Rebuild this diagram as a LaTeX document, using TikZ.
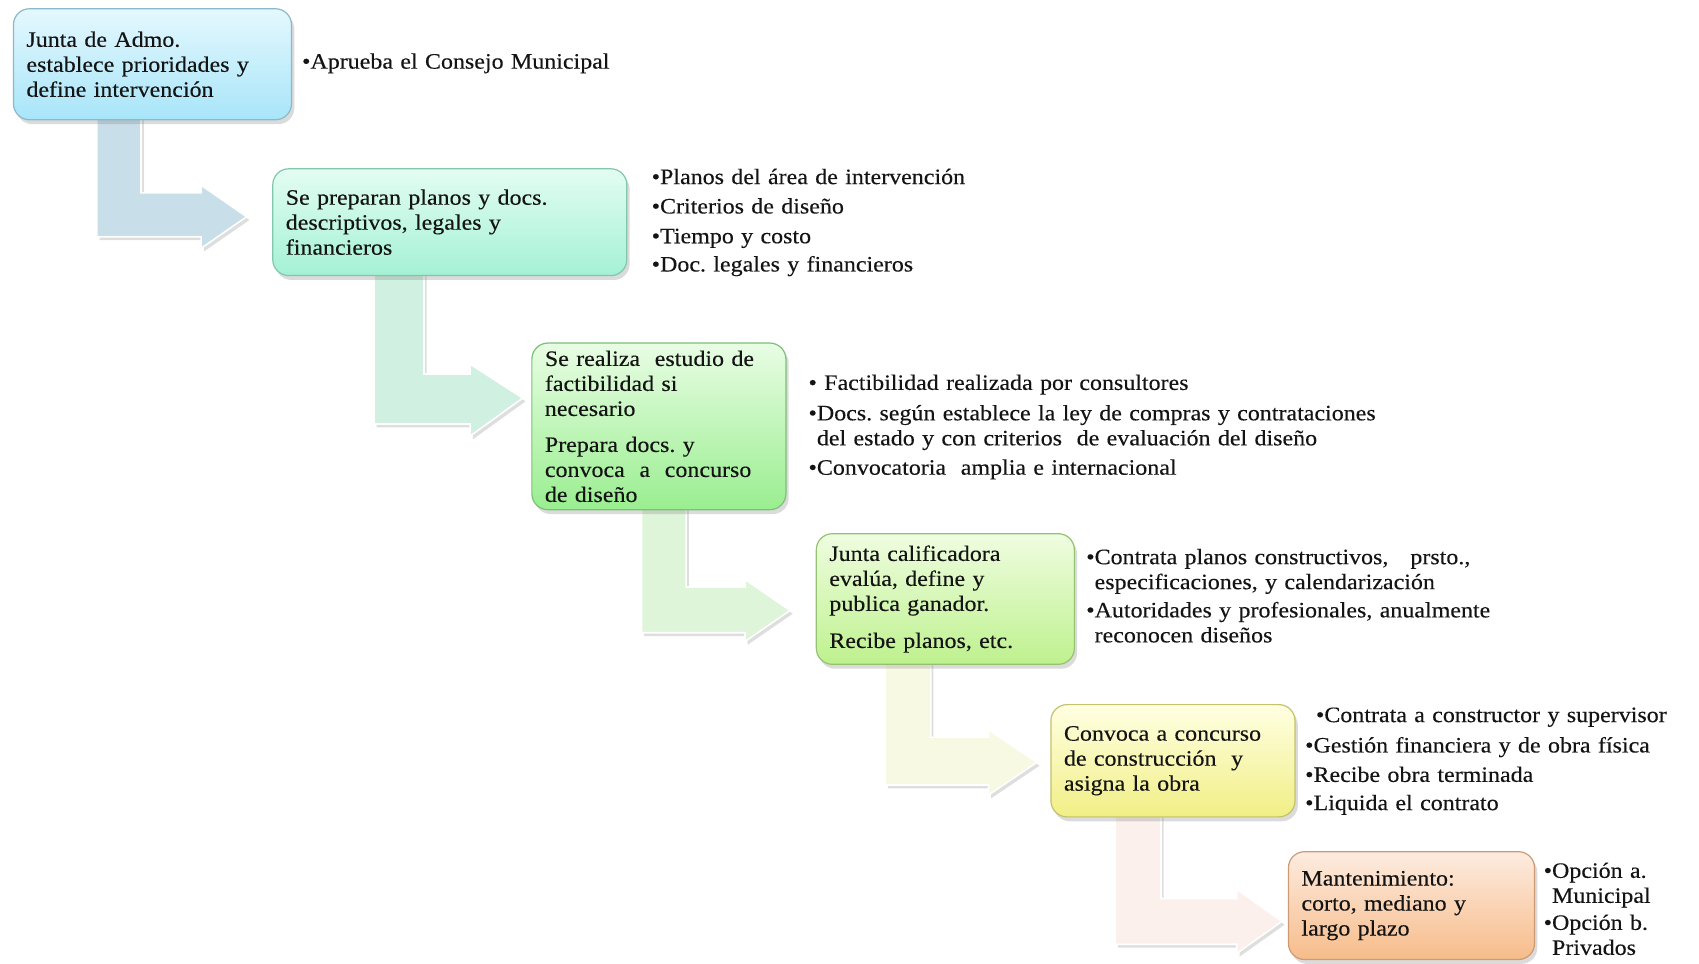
\documentclass[tikz,border=0pt]{standalone}
\usepackage{fontspec}
\setmainfont{Liberation Serif}[FakeStretch=1.09,FakeBold=0.25]
\usetikzlibrary{shadows}
\definecolor{txt}{HTML}{141414}
\definecolor{bAt}{HTML}{E4F8FE}\definecolor{bAb}{HTML}{A8E5F9}\definecolor{bAd}{HTML}{8CB9C8}
\definecolor{bBt}{HTML}{E3FDF3}\definecolor{bBb}{HTML}{A4F1D5}\definecolor{bBd}{HTML}{82C6AC}
\definecolor{bCt}{HTML}{E8FDE4}\definecolor{bCb}{HTML}{9AEE90}\definecolor{bCd}{HTML}{7CC077}
\definecolor{bDt}{HTML}{EFFDE0}\definecolor{bDb}{HTML}{BEF18E}\definecolor{bDd}{HTML}{95C270}
\definecolor{bEt}{HTML}{FFFFE3}\definecolor{bEb}{HTML}{F1EF85}\definecolor{bEd}{HTML}{C4C26C}
\definecolor{bFt}{HTML}{FDECE0}\definecolor{bFb}{HTML}{F7BC8A}\definecolor{bFd}{HTML}{CC9B76}
\definecolor{aA}{HTML}{C8DEE8}
\definecolor{aB}{HTML}{D0F0E1}
\definecolor{aC}{HTML}{DFF5D9}
\definecolor{aD}{HTML}{F8F9E2}
\definecolor{aE}{HTML}{FBF0EB}
\newcommand\blockarrow[2]{%
  \fill[black,opacity=.13,shift={(2.5,3)}] #2;
  \filldraw[fill=#1,draw=white,line width=.8pt,line join=miter] #2;}
\begin{document}
\frenchspacing
\begin{tikzpicture}[x=0.5445pt,y=-0.5445pt,
  every node/.style={font=\fontsize{11}{12.5}\selectfont\frenchspacing, text=txt},
  stepbox/.style n args={3}{rounded corners=8pt, top color=#1, bottom color=#2, draw=#3,
    line width=.6pt, align=left, inner xsep=6.5pt, inner ysep=0pt,
    drop shadow={shadow xshift=1.4pt, shadow yshift=-2.2pt, opacity=.28}},
  bullets/.style={anchor=base west, align=left, text width=400pt, inner sep=0pt}]
\useasboundingbox (0,0) rectangle (1560,885);
\fill[white] (0,0) rectangle (1560,885);

% block arrows
\blockarrow{aA}{(89,105) -- (129.5,105) -- (129.5,177) -- (184.6,177) -- (184.6,170) -- (226.5,199) -- (184.6,228) -- (184.6,217.5) -- (89,217.5) -- cycle}
\blockarrow{aB}{(343.4,248) -- (389.3,248) -- (389.3,343.4) -- (431.6,343.4) -- (431.6,334.3) -- (480,365.5) -- (431.6,400.4) -- (431.6,389.3) -- (343.4,389.3) -- cycle}
\blockarrow{aC}{(589,463) -- (630,463) -- (630,539) -- (684,539) -- (684,532) -- (725.4,560.5) -- (684,589) -- (684,581) -- (589,581) -- cycle}
\blockarrow{aD}{(812.7,605) -- (854.6,605) -- (854.6,677) -- (907.6,677) -- (907.6,670) -- (952,700) -- (907.6,730) -- (907.6,720.8) -- (812.7,720.8) -- cycle}
\blockarrow{aE}{(1024,745) -- (1066,745) -- (1066,825) -- (1135.6,825) -- (1135.6,816.6) -- (1177,846) -- (1135.6,875.4) -- (1135.6,867) -- (1024,867) -- cycle}

% boxes
\node[stepbox={bAt}{bAb}{bAd}, text width=126pt, minimum width=139pt, minimum height=55.5pt] (b1) at (140,59)
  {Junta de Admo.\\establece prioridades y\\define intervención};
\node[stepbox={bBt}{bBb}{bBd}, text width=164pt, minimum width=177pt, minimum height=53.4pt] (b2) at (413,204)
  {Se preparan planos y docs.\\descriptivos, legales y\\financieros};
\node[stepbox={bCt}{bCb}{bCd}, text width=114pt, minimum width=127pt, minimum height=83.3pt] (b3) at (605,391.5)
  {Se realiza~ estudio de\\factibilidad si\\necesario\\[5.5pt]Prepara docs. y\\convoca~ a~ concurso\\de diseño};
\node[stepbox={bDt}{bDb}{bDd}, text width=116pt, minimum width=129pt, minimum height=65.3pt] (b4) at (868,550)
  {Junta calificadora\\evalúa, define y\\publica ganador.\\[6pt]Recibe planos, etc.};
\node[stepbox={bEt}{bEb}{bEd}, text width=109pt, minimum width=122pt, minimum height=56.1pt] (b5) at (1077,698.5)
  {Convoca a concurso\\de construcción~ y\\asigna la obra};
\node[stepbox={bFt}{bFb}{bFd}, text width=110pt, minimum width=123pt, minimum height=53.9pt] (b6) at (1296,831.5)
  {Mantenimiento:\\corto, mediano y\\largo plazo};

% bullet texts
\node[bullets] (t1) at (277,63) {•Aprueba el Consejo Municipal};
\node[bullets] (t2) at (598,169) {•Planos del área de intervención\\[2.2pt]•Criterios de diseño\\[2.4pt]•Tiempo y costo\\[1.6pt]•Doc. legales y financieros};
\node[bullets] (t3) at (742,358) {• Factibilidad realizada por consultores\\[2.7pt]•Docs. según establece la ley de compras y contrataciones\\\phantom{•}del estado y con criterios~ de evaluación del diseño\\[2.2pt]•Convocatoria~ amplia e internacional};
\node[bullets] (t4) at (997,518) {•Contrata planos constructivos,~~ prsto.,\\\phantom{•}especificaciones, y calendarización\\[1.6pt]•Autoridades y profesionales, anualmente\\\phantom{•}reconocen diseños};
\node[bullets] (t5) at (1198,663) {\hspace*{5.4pt}•Contrata a constructor y supervisor\\[2.7pt]•Gestión financiera y de obra física\\[2.2pt]•Recibe obra terminada\\[1.6pt]•Liquida el contrato};
\node[bullets] (t6) at (1417,806) {•Opción a.\\\phantom{•}Municipal\\[1pt]•Opción b.\\\phantom{•}Privados};
\end{tikzpicture}
\end{document}
